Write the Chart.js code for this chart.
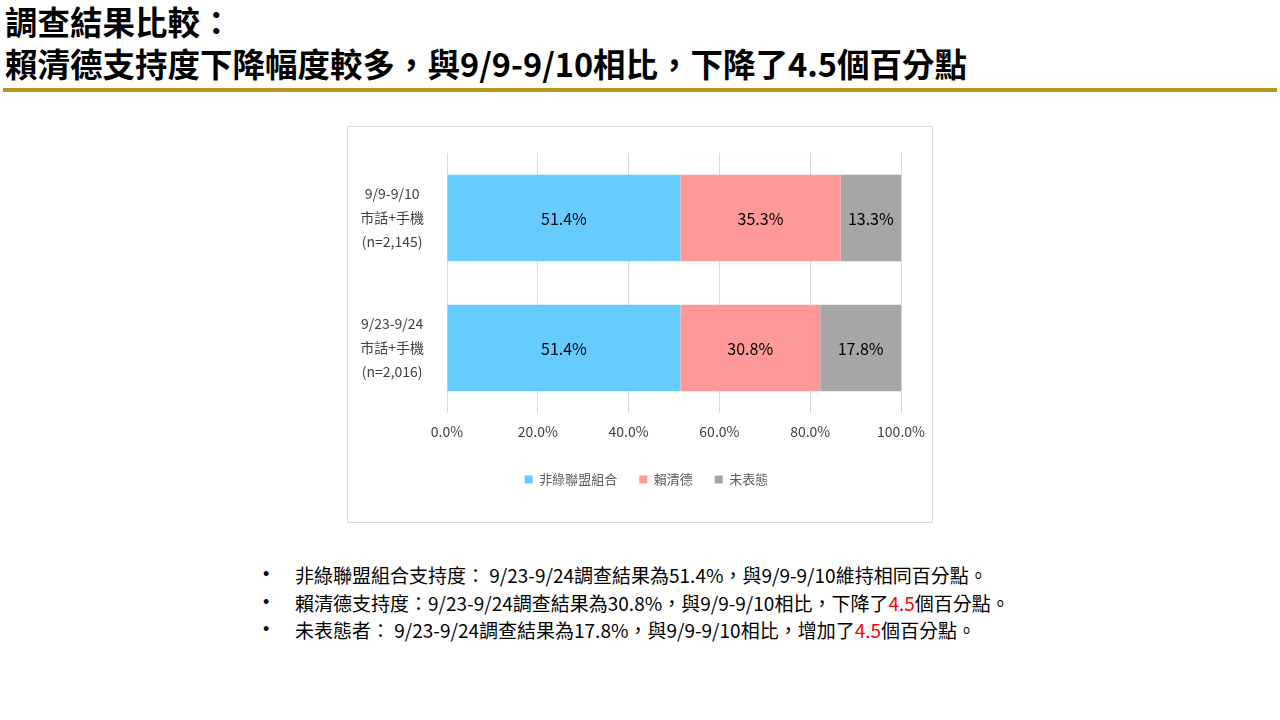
<!DOCTYPE html>
<html>
<head>
<meta charset="utf-8">
<script src="https://cdn.jsdelivr.net/npm/chart.js@4.4.0/dist/chart.umd.min.js"></script>
<style>
  html, body { margin: 0; padding: 0; background: #fff; }
  body { width: 1280px; height: 720px; position: relative; overflow: hidden;
         font-family: "Noto Sans CJK TC", "Noto Sans", sans-serif; }
  .title { position: absolute; left: 5px; top: 0px; font-size: 32.5px; font-weight: bold;
           line-height: 42px; color: #000; }
  .rule { position: absolute; left: 3px; top: 88px; width: 1274px; height: 4px; background: #B8961E; }
  .box { position: absolute; left: 347px; top: 126px; width: 584px; height: 395px;
         border: 1px solid #d9d9d9; }
  .box canvas { display: block; }
  .notes { position: absolute; left: 262px; top: 561px; font-size: 19px; color: #000;
           line-height: 27.5px; margin: 0; padding: 0; list-style: none; }
  .notes li { position: relative; padding-left: 33px; white-space: nowrap; }
  .notes li::before { content: "•"; position: absolute; left: 1px; top: 0;
                      font-family: "Liberation Sans", Arial, sans-serif; font-size: 18px; }
  .red { color: #FF0000; }
</style>
</head>
<body>
<div class="title">調查結果比較：<br>賴清德支持度下降幅度較多，與9/9-9/10相比，下降了4.5個百分點</div>
<div class="rule"></div>
<div class="box"><canvas id="chart" width="584" height="395"></canvas></div>
<ul class="notes">
  <li>非綠聯盟組合支持度： 9/23-9/24調查結果為51.4%，與9/9-9/10維持相同百分點。</li>
  <li>賴清德支持度：9/23-9/24調查結果為30.8%，與9/9-9/10相比，下降了<span class="red">4.5</span>個百分點。</li>
  <li>未表態者： 9/23-9/24調查結果為17.8%，與9/9-9/10相比，增加了<span class="red">4.5</span>個百分點。</li>
</ul>
<script>
// Survey rounds (y categories), each label drawn on three lines
const surveyLabels = [
    ['9/9-9/10', '市話+手機', '(n=2,145)'],
    ['9/23-9/24', '市話+手機', '(n=2,016)']
];

// Percent values per group
const nonGreenValues = [51.4, 51.4];
const laiValues = [35.3, 30.8];
const undecidedValues = [13.3, 17.8];

const seriesNames = ['非綠聯盟組合', '賴清德', '未表態'];
const seriesColors = ['#66CCFF', '#FF9999', '#A6A6A6'];

const xTicks = [0, 20, 40, 60, 80, 100];

const FONT = '"Noto Sans CJK TC", "Noto Sans", sans-serif';

// Draw the value label centred inside each bar segment
const barValueLabels = {
    id: 'barValueLabels',
    afterDatasetsDraw(chart) {
        const ctx = chart.ctx;
        ctx.save();
        ctx.font = '16px ' + FONT;
        ctx.fillStyle = '#000';
        ctx.textAlign = 'center';
        ctx.textBaseline = 'middle';
        chart.data.datasets.forEach((ds, i) => {
            chart.getDatasetMeta(i).data.forEach((bar, j) => {
                const { x, y, base } = bar.getProps(['x', 'y', 'base'], true);
                ctx.fillText(ds.data[j].toFixed(1) + '%', (x + base) / 2, y + 1);
            });
        });
        ctx.restore();
    }
};

// Legend is centred on the whole frame in the original, not on the plot
const legendShift = {
    id: 'legendShift',
    afterLayout(chart) {
        chart.legend.left += 22;
        chart.legend.right += 22;
    }
};

const datasets = [nonGreenValues, laiValues, undecidedValues].map((vals, i) => ({
    label: seriesNames[i],
    data: vals,
    backgroundColor: seriesColors[i],
    borderWidth: 0,
    barPercentage: 0.665,
    categoryPercentage: 1
}));

new Chart(document.getElementById('chart'), {
    type: 'bar',
    data: { labels: surveyLabels, datasets },
    plugins: [barValueLabels, legendShift],
    options: {
        indexAxis: 'y',
        responsive: false,
        animation: false,
        layout: { padding: { top: 26, right: 31, bottom: 26, left: 0 } },
        plugins: {
            legend: {
                position: 'bottom',
                labels: {
                    boxWidth: 8,
                    boxHeight: 8,
                    padding: 22,
                    color: '#595959',
                    font: { size: 13, family: FONT }
                }
            },
            tooltip: { enabled: false }
        },
        scales: {
            x: {
                stacked: true,
                min: 0,
                max: 100,
                afterBuildTicks: (scale) => { scale.ticks = xTicks.map(v => ({ value: v })); },
                afterFit: (scale) => {
                    scale.paddingLeft = 0;
                    scale.paddingRight = 0;
                },
                ticks: {
                    color: '#404040',
                    padding: 12,
                    font: { size: 14, family: FONT, lineHeight: 1 },
                    callback: (v) => v.toFixed(1) + '%'
                },
                grid: { color: '#d9d9d9', drawTicks: false },
                border: { display: false }
            },
            y: {
                stacked: true,
                afterFit: (scale) => {
                    scale.width = 99;
                    scale.paddingTop = 0;
                    scale.paddingBottom = 0;
                },
                ticks: {
                    color: '#404040',
                    crossAlign: 'center',
                    padding: 15,
                    font: { size: 14, family: FONT, lineHeight: 1.72 }
                },
                grid: { display: false },
                border: { display: false }
            }
        }
    }
});
</script>
</body>
</html>
